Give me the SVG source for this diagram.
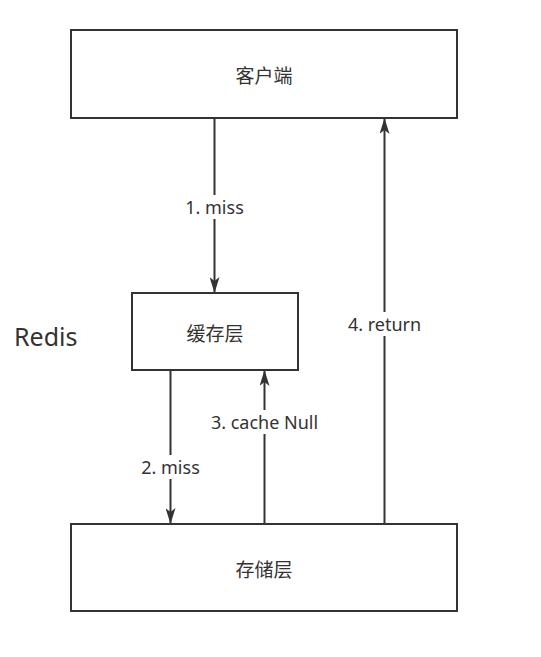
<svg xmlns="http://www.w3.org/2000/svg" width="541" height="657" viewBox="0 0 541 657">
<defs>
<marker id="arr" viewBox="0 0 16 10" refX="16" refY="5" markerWidth="16" markerHeight="10" markerUnits="userSpaceOnUse" orient="auto">
<path d="M0,0 L16,5 L0,10 L4,5 Z" fill="#333333"/>
</marker>
<style>
.box{fill:#ffffff;stroke:#333333;stroke-width:2}
.edge{fill:none;stroke:#333333;stroke-width:2}
.t{font-family:"Noto Sans","Noto Sans CJK SC",sans-serif;font-size:18px;fill:#333333;text-anchor:middle;dominant-baseline:central}
.c{font-family:"Noto Sans CJK SC",sans-serif;font-size:19px;fill:#333333;text-anchor:middle;dominant-baseline:central}
.lb{fill:#ffffff}
</style>
</defs>
<rect width="541" height="657" fill="#ffffff"/>
<g id="connectors">
<path class="edge" d="M214.5,118 L214.5,293" marker-end="url(#arr)"/>
<path class="edge" d="M170.5,370 L170.5,524" marker-end="url(#arr)"/>
<path class="edge" d="M264.5,524 L264.5,370" marker-end="url(#arr)"/>
<path class="edge" d="M384.5,524 L384.5,118" marker-end="url(#arr)"/>
<rect class="lb" x="182" y="195" width="66" height="24"/>
<text class="t" x="214.5" y="207">1. miss</text>
<rect class="lb" x="138" y="455" width="66" height="24"/>
<text class="t" x="170.5" y="467">2. miss</text>
<rect class="lb" x="204" y="410" width="122" height="24"/>
<text class="t" x="264.5" y="422">3. cache Null</text>
<rect class="lb" x="343" y="312" width="84" height="24"/>
<text class="t" x="384.5" y="324">4. return</text>
</g>
<g id="client">
<rect class="box" x="71" y="30" width="386" height="88"/>
<text class="c" x="264" y="74">客户端</text>
</g>
<g id="cache">
<rect class="box" x="132" y="293" width="166" height="77"/>
<text class="c" x="215" y="332">缓存层</text>
</g>
<g id="storage">
<rect class="box" x="71" y="524" width="386" height="87"/>
<text class="c" x="264" y="568">存储层</text>
</g>
<g id="redis-label">
<text x="14" y="346" font-family="Noto Sans, Noto Sans CJK SC, sans-serif" font-size="25" fill="#333333">Redis</text>
</g>
</svg>
